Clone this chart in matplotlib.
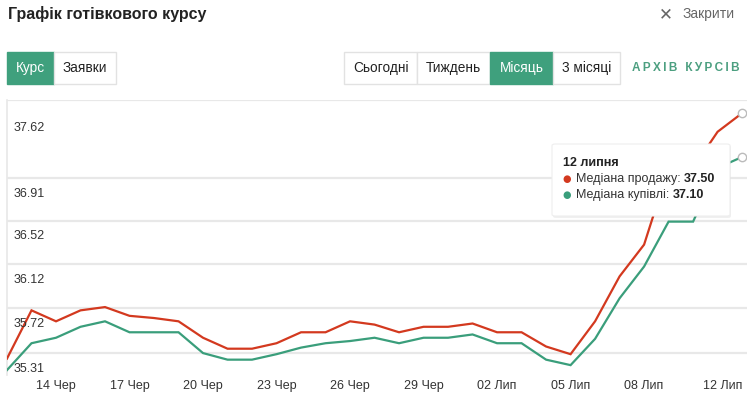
import matplotlib
matplotlib.use("Agg")
import matplotlib.pyplot as plt
import numpy as np
import pandas as pd
from matplotlib.patches import Rectangle, FancyBboxPatch

plt.rcParams["font.family"] = ["Liberation Sans", "DejaVu Sans"]

# --- data ---
dates = pd.date_range("2022-06-12", "2022-07-12", freq="D")
sell_median = [35.26, 35.70, 35.60, 35.70, 35.73, 35.65, 35.63, 35.60, 35.45, 35.35,
               35.35, 35.40, 35.50, 35.50, 35.60, 35.57, 35.50, 35.55, 35.55, 35.58,
               35.50, 35.50, 35.37, 35.30, 35.60, 36.01, 36.30, 37.00, 37.00, 37.33,
               37.50]
buy_median = [35.155, 35.40, 35.45, 35.55, 35.60, 35.50, 35.50, 35.50, 35.31, 35.25,
              35.25, 35.30, 35.36, 35.40, 35.42, 35.45, 35.40, 35.45, 35.45, 35.48,
              35.40, 35.40, 35.25, 35.20, 35.44, 35.81, 36.10, 36.51, 36.51, 37.00,
              37.10]
y_ticks = [35.31, 35.72, 36.12, 36.52, 36.91, 37.62]
month_names = {6: "Чер", 7: "Лип"}
tick_idx = [2, 5, 8, 11, 14, 17, 20, 23, 26, 30]

RED = "#d3391f"
GREEN = "#3a9e7b"
BTN_GREEN = "#3fa07d"
TEXT = "#333333"
GRID = "#e8e8e8"

W, H = 747, 396
fig = plt.figure(figsize=(W / 100, H / 100), dpi=100)


def fx(x):
    return x / W


def fy(y):
    return 1 - y / H


# --- chart ---
ax = fig.add_axes([fx(7), fy(375), fx(740), 275 / H])
x = np.arange(len(dates))
ax.plot(x, sell_median, color=RED, lw=1.6, solid_joinstyle="miter", zorder=3)
ax.plot(x, buy_median, color=GREEN, lw=1.6, solid_joinstyle="miter", zorder=3)
ax.plot([x[-1]] * 2, [sell_median[-1], buy_median[-1]], "o", ms=6, mfc="white",
        mec="#bbbbbb", mew=1, clip_on=False, zorder=4)
ax.set_xlim(0, 30.2)
ax.set_ylim(35.11, 37.62)

for v in y_ticks:
    ax.axhline(v, color=GRID, lw=1.6, zorder=1)
    off = -16 if v == y_ticks[-1] else -7
    ax.annotate(f"{v:.2f}", (0, v), xycoords=("axes fraction", "data"),
                xytext=(5, off), textcoords="offset points", ha="left", va="top",
                fontsize=9, color=TEXT)

for i in tick_idx:
    d = dates[i]
    ha = "right" if i == len(dates) - 1 else "center"
    ax.annotate(f"{d.day:02d} {month_names[d.month]}", (i, 0),
                xycoords=("data", "axes fraction"), xytext=(0, -8),
                textcoords="offset points", ha=ha, va="center", fontsize=9,
                color=TEXT, annotation_clip=False)

for s in ["top", "right", "bottom"]:
    ax.spines[s].set_visible(False)
ax.spines["left"].set_color(GRID)
ax.spines["left"].set_linewidth(1.2)
ax.set_xticks([])
ax.set_yticks([])

# --- header ---
fig.text(fx(8), fy(14), "Графік готівкового курсу", fontsize=11.5, fontweight="bold",
         color="#222222", va="center", ha="left")
fig.text(fx(666), fy(14), "✕", fontsize=12, color="#666666", va="center", ha="center",
         family="DejaVu Sans")
fig.text(fx(683), fy(14), "Закрити", fontsize=10, color="#666666", va="center", ha="left")


def button(x0, x1, label, active):
    fig.add_artist(Rectangle((fx(x0), fy(84)), fx(x1 - x0), 32 / H,
                             transform=fig.transFigure,
                             facecolor=BTN_GREEN if active else "white",
                             edgecolor=BTN_GREEN if active else "#e2e2e2", lw=1))
    fig.text(fx((x0 + x1) / 2), fy(68), label, fontsize=9.8,
             color="white" if active else "#222222", ha="center", va="center")


button(7, 54, "Курс", True)
button(54, 116, "Заявки", False)
button(344, 417, "Сьогодні", False)
button(417, 490, "Тиждень", False)
button(490, 553, "Місяць", True)
button(553, 620, "3 місяці", False)
archive = "\u2009 \u2009".join("\u2009".join(w) for w in "АРХІВ КУРСІВ".split())
fig.text(fx(740), fy(68), archive, fontsize=8.5, fontweight="bold", color="#4c9f80",
         ha="right", va="center")

# --- tooltip ---
fig.add_artist(FancyBboxPatch((fx(553), fy(218)), fx(178), 73 / H,
                              boxstyle="round,pad=0,rounding_size=0.004",
                              transform=fig.transFigure, facecolor="#000000",
                              alpha=0.06, edgecolor="none", zorder=5))
fig.add_artist(FancyBboxPatch((fx(552), fy(216)), fx(178), 72 / H,
                              boxstyle="round,pad=0,rounding_size=0.004",
                              transform=fig.transFigure, facecolor="white",
                              edgecolor="#eeeeee", lw=0.8, zorder=6))
fig.text(fx(563), fy(163), f"{dates[-1].day} липня", fontsize=9, fontweight="bold",
         color="#222222", va="center", ha="left", zorder=7)
for yy, col, lab, val in [(179, RED, "Медіана продажу: ", sell_median[-1]),
                          (195, GREEN, "Медіана купівлі: ", buy_median[-1])]:
    fig.text(fx(567), fy(yy), "●", fontsize=7, color=col, va="center", ha="center",
             family="DejaVu Sans", zorder=7)
    t = fig.text(fx(576), fy(yy), lab, fontsize=9, color=TEXT, va="center", ha="left",
                 zorder=7)
    fig.canvas.draw()
    bb = t.get_window_extent()
    fig.text(bb.x1 / W, fy(yy), f"{val:.2f}", fontsize=9, fontweight="bold",
             color="#222222", va="center", ha="left", zorder=7)

fig.savefig("out.png", dpi=100)
